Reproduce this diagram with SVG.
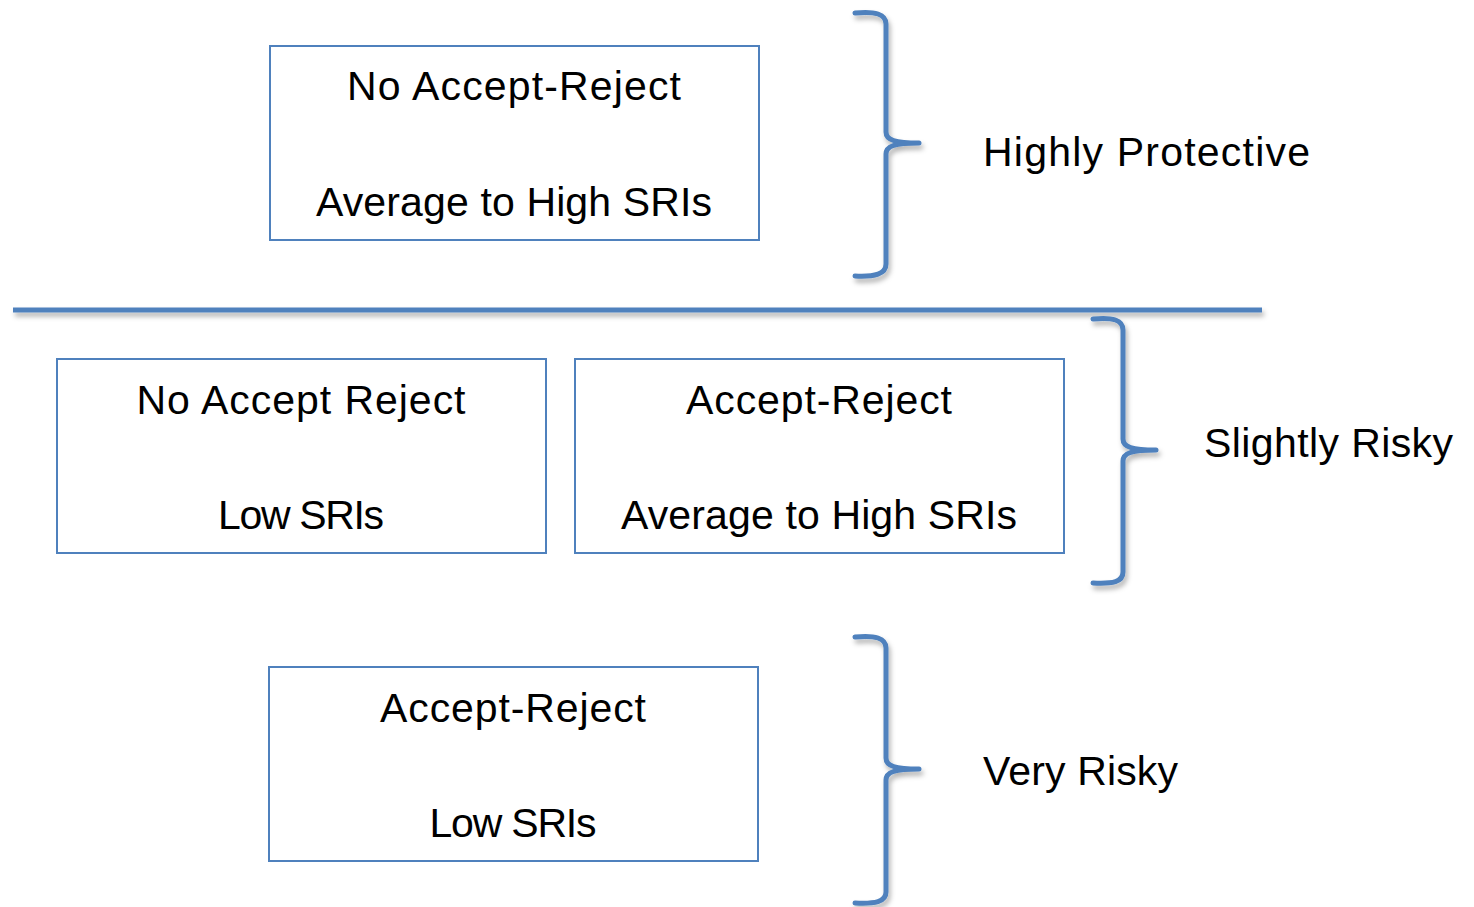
<svg xmlns="http://www.w3.org/2000/svg" width="1474" height="907" viewBox="0 0 1474 907">
  <style>
    .box { fill: #ffffff; stroke: #4f81bd; stroke-width: 2; }
    .brace { fill: none; stroke: #4f81bd; stroke-width: 5; stroke-linecap: round; stroke-linejoin: round; }
    .rule { stroke: #4f81bd; stroke-width: 5; }
    .t { font-family: "Liberation Sans", Arial, sans-serif; font-size: 41px; fill: #000000; }
    .c { text-anchor: middle; }
  </style>
  <defs>
    <filter id="shadow" x="-20%" y="-20%" width="140%" height="140%">
      <feDropShadow dx="2" dy="4" stdDeviation="2.5" flood-color="#000000" flood-opacity="0.3"/>
    </filter>
  </defs>

  <rect width="1474" height="907" fill="#ffffff"/>

  <g id="box-top">
    <rect class="box" x="270" y="46" width="489" height="194"/>
    <text class="t c" x="514" y="100" textLength="334" lengthAdjust="spacing">No Accept-Reject</text>
    <text class="t c" x="514" y="216" textLength="396" lengthAdjust="spacing">Average to High SRIs</text>
  </g>

  <g id="box-mid-left">
    <rect class="box" x="57" y="359" width="489" height="194"/>
    <text class="t c" x="301" y="414" textLength="329" lengthAdjust="spacing">No Accept Reject</text>
    <text class="t c" x="301" y="529" textLength="166" lengthAdjust="spacing">Low SRIs</text>
  </g>

  <g id="box-mid-right">
    <rect class="box" x="575" y="359" width="489" height="194"/>
    <text class="t c" x="819" y="414" textLength="266" lengthAdjust="spacing">Accept-Reject</text>
    <text class="t c" x="819" y="529" textLength="396" lengthAdjust="spacing">Average to High SRIs</text>
  </g>

  <g id="box-bottom">
    <rect class="box" x="269" y="667" width="489" height="194"/>
    <text class="t c" x="513" y="722" textLength="266" lengthAdjust="spacing">Accept-Reject</text>
    <text class="t c" x="513" y="837" textLength="167" lengthAdjust="spacing">Low SRIs</text>
  </g>

  <g id="connectors" filter="url(#shadow)">
    <line class="rule" x1="13" y1="310" x2="1262" y2="310"/>
    <path class="brace" d="M855,13 C875,11 886,14 886,24 L886,132 C886,140 895,143 919,143 C895,143 886,146 886,154 L886,264 C886,274 875,277 855,276"/>
    <path class="brace" d="M1093,319 C1113,317 1123,320 1123,330 L1123,439 C1123,447 1132,450 1156,450 C1132,450 1123,453 1123,461 L1123,572 C1123,582 1113,584 1093,583"/>
    <path class="brace" d="M855,637 C875,635 886,638 886,648 L886,758 C886,766 895,769 919,769 C895,769 886,772 886,780 L886,892 C886,902 875,904 855,903"/>
  </g>

  <g id="label-highly-protective">
    <text class="t" x="983" y="166" textLength="327" lengthAdjust="spacing">Highly Protective</text>
  </g>
  <g id="label-slightly-risky">
    <text class="t" x="1204" y="457" textLength="249" lengthAdjust="spacing">Slightly Risky</text>
  </g>
  <g id="label-very-risky">
    <text class="t" x="983" y="785" textLength="195" lengthAdjust="spacing">Very Risky</text>
  </g>
</svg>
